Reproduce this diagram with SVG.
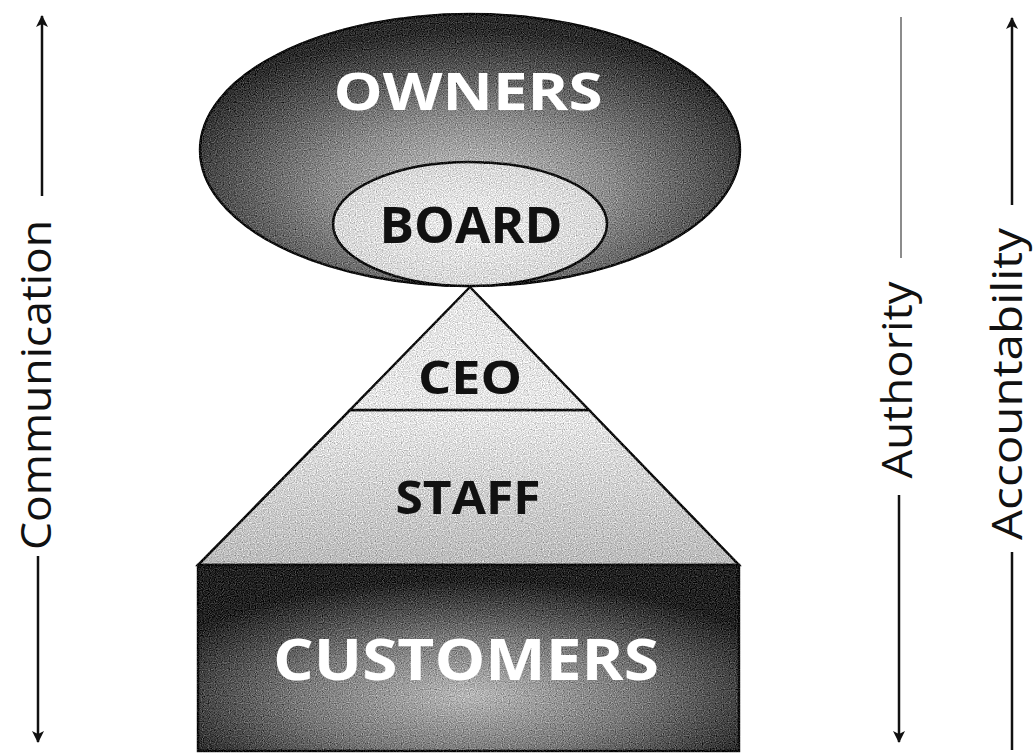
<svg xmlns="http://www.w3.org/2000/svg" width="1035" height="753" viewBox="0 0 1035 753">
  <style>
    .shape { stroke: #111; stroke-width: 2.5; }
    .grain { filter: url(#stip); }
    .lbl { font-family: "Open Sans", "DejaVu Sans", sans-serif; font-weight: 700; text-anchor: middle; }
    .white { fill: #ffffff; }
    .black { fill: #111111; }
    .axis { font-family: "Open Sans", "DejaVu Sans", sans-serif; font-weight: 400; font-size: 42px; fill: #111; text-anchor: middle; }
    .ax { stroke: #111; stroke-width: 2.5; fill: none; }
    .axl { stroke: #666; stroke-width: 1.5; fill: none; }
  </style>
  <defs>
    <filter id="stip" x="-0.03" y="-0.03" width="1.06" height="1.06" color-interpolation-filters="sRGB">
      <feTurbulence type="fractalNoise" baseFrequency="0.85" numOctaves="1" seed="7" result="noise"/>
      <feColorMatrix in="noise" type="matrix" values="0.33 0.33 0.33 0 0  0.33 0.33 0.33 0 0  0.33 0.33 0.33 0 0  0 0 0 0 1" result="gray"/>
      <feComposite in="SourceGraphic" in2="gray" operator="arithmetic" k1="0" k2="1" k3="1.2" k4="-0.6" result="mix"/>
      <feComposite in="mix" in2="SourceAlpha" operator="in"/>
    </filter>
    <radialGradient id="gOwners" cx="0.5" cy="0.64" r="0.58">
      <stop offset="0" stop-color="#c4c4c4"/>
      <stop offset="0.45" stop-color="#8c8c8c"/>
      <stop offset="1" stop-color="#2c2c2c"/>
    </radialGradient>
    <radialGradient id="gBoard" cx="0.5" cy="0.5" r="0.6">
      <stop offset="0" stop-color="#ececec"/>
      <stop offset="1" stop-color="#d4d4d4"/>
    </radialGradient>
    <linearGradient id="gStaff" x1="0" y1="0" x2="0" y2="1">
      <stop offset="0" stop-color="#e8e8e8"/>
      <stop offset="1" stop-color="#bcbcbc"/>
    </linearGradient>
    <radialGradient id="gCust" cx="0.5" cy="0.7" r="0.62">
      <stop offset="0" stop-color="#b8b8b8"/>
      <stop offset="0.5" stop-color="#7a7a7a"/>
      <stop offset="1" stop-color="#222222"/>
    </radialGradient>
    <marker id="arr" viewBox="0 0 12 12" refX="11" refY="6" markerWidth="12" markerHeight="12" markerUnits="userSpaceOnUse" orient="auto">
      <path d="M0,0 L12,6 L0,12 L3,6 Z" fill="#111"/>
    </marker>
  </defs>

  <g id="owners">
    <ellipse cx="470" cy="150" rx="270" ry="136" fill="url(#gOwners)" class="shape grain"/>
    <text x="468" y="110" class="lbl white" font-size="52" textLength="269" lengthAdjust="spacingAndGlyphs">OWNERS</text>
  </g>

  <g id="staff">
    <polygon points="350,410 589,410 739,565 198,565" fill="url(#gStaff)" class="shape grain"/>
    <text x="468" y="514" class="lbl black" font-size="47" textLength="145" lengthAdjust="spacingAndGlyphs">STAFF</text>
  </g>

  <g id="ceo">
    <polygon points="470,287 589,410 350,410" fill="#e6e6e6" class="shape grain"/>
    <text x="470" y="394" class="lbl black" font-size="46" textLength="104" lengthAdjust="spacingAndGlyphs">CEO</text>
  </g>

  <g id="customers">
    <rect x="198" y="565" width="541" height="186" fill="url(#gCust)" class="shape grain"/>
    <text x="466" y="680" class="lbl white" font-size="58" textLength="386" lengthAdjust="spacingAndGlyphs">CUSTOMERS</text>
  </g>

  <g id="board">
    <ellipse cx="470" cy="224" rx="137" ry="62" fill="url(#gBoard)" class="shape grain"/>
    <text x="471" y="243" class="lbl black" font-size="50" textLength="183" lengthAdjust="spacingAndGlyphs">BOARD</text>
  </g>

  <g id="connectors">
    <line x1="42" y1="196" x2="42" y2="16" class="ax" marker-end="url(#arr)"/>
    <line x1="38" y1="556" x2="38" y2="742" class="ax" marker-end="url(#arr)"/>
    <line x1="901" y1="17" x2="901" y2="258" class="axl"/>
    <line x1="899" y1="495" x2="899" y2="742" class="ax" marker-end="url(#arr)"/>
    <line x1="1012" y1="205" x2="1012" y2="18" class="ax" marker-end="url(#arr)"/>
    <line x1="1012" y1="552" x2="1012" y2="750" class="ax"/>
  </g>

  <g id="label-communication">
    <text class="axis" transform="translate(51,385) rotate(-90)" textLength="330" lengthAdjust="spacingAndGlyphs">Communication</text>
  </g>
  <g id="label-authority">
    <text class="axis" transform="translate(912,380) rotate(-90)" textLength="197" lengthAdjust="spacingAndGlyphs">Authority</text>
  </g>
  <g id="label-accountability">
    <text class="axis" transform="translate(1022,384) rotate(-90)" textLength="312" lengthAdjust="spacingAndGlyphs">Accountability</text>
  </g>
</svg>
